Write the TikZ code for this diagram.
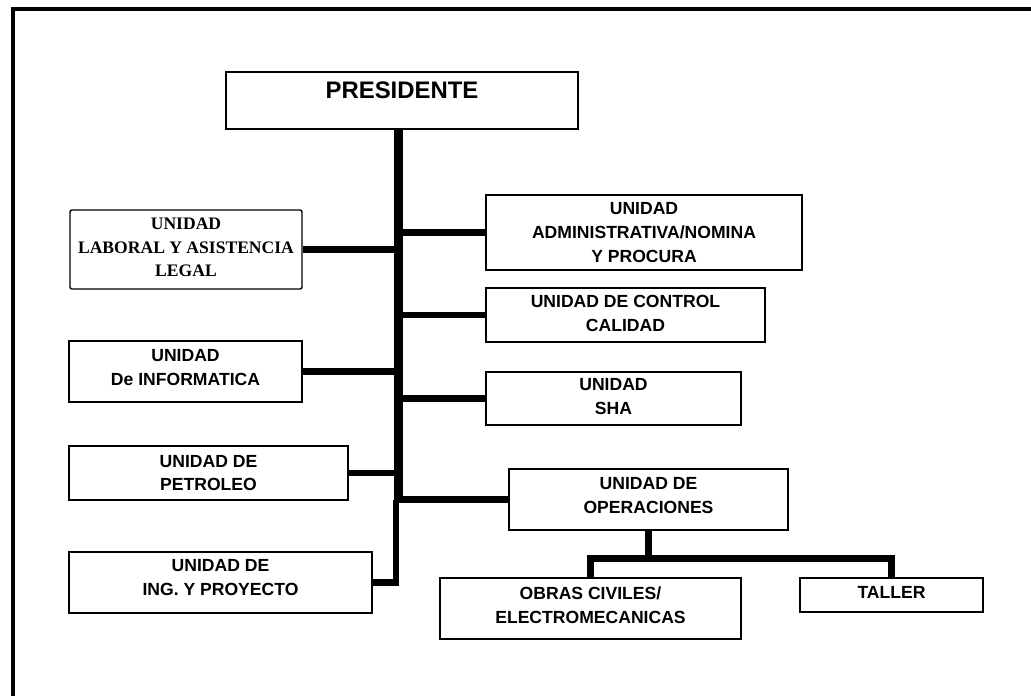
\documentclass[tikz,border=0pt]{standalone}
\usepackage{fontspec}
\setmainfont{Liberation Sans}
\newfontfamily\timesfont{Liberation Serif}
\usetikzlibrary{positioning}
\newcommand{\bajo}[1]{\rule[-#1]{0pt}{0pt}}

\begin{document}
\begin{tikzpicture}[x=0.025cm, y=-0.025cm,
  unidad/.style={draw, line width=1pt, fill=white, align=center, inner sep=0pt,
    font=\fontsize{12.5}{16.8}\selectfont\bfseries},
  rama/.style={line width=4.3pt},
  tronco/.style={line width=7.1pt}]
\useasboundingbox (0,0) rectangle (1031,696);

% Frame
\draw[line width=2.85pt] (13,696) -- (13,9) -- (1031,9);

% Boxes
\node[unidad, minimum width=8.8cm, text height=0.675cm, text depth=0.75cm,
  font=\fontsize{17}{20}\selectfont\bfseries] (pres) at (402,100.5) {PRESIDENTE};

\node[unidad, rounded corners=1.5pt, minimum width=5.8cm, minimum height=1.975cm,
  font=\fontsize{12.5}{16.6}\selectfont\timesfont\bfseries] (laboral) at (186,249.5)
  {UNIDAD\\LABORAL Y ASISTENCIA\\LEGAL\bajo{3pt}};
\node[unidad, minimum width=5.825cm, minimum height=1.525cm] (info) at (185.5,371.5)
  {UNIDAD\\De INFORMATICA\bajo{6pt}};
\node[unidad, minimum width=6.975cm, minimum height=1.35cm] (petro) at (208.5,473)
  {UNIDAD DE\\PETROLEO};
\node[unidad, minimum width=7.575cm, minimum height=1.525cm] (ing) at (220.5,582.5)
  {UNIDAD DE\\ING. Y PROYECTO\bajo{7pt}};

\node[unidad, minimum width=7.9cm, minimum height=1.875cm] (admin) at (644,232.5)
  {UNIDAD\\ADMINISTRATIVA/NOMINA\\Y PROCURA};
\node[unidad, minimum width=6.975cm, minimum height=1.35cm] (calidad) at (625.5,315)
  {UNIDAD DE CONTROL\\CALIDAD\bajo{2pt}};
\node[unidad, minimum width=6.375cm, minimum height=1.325cm] (sha) at (613.5,398.5)
  {UNIDAD\\SHA\bajo{3pt}};
\node[unidad, minimum width=6.975cm, minimum height=1.525cm] (ops) at (648.5,499.5)
  {UNIDAD DE\\OPERACIONES\bajo{6pt}};

\node[unidad, minimum width=7.525cm, minimum height=1.525cm] (obras) at (590.5,608.5)
  {OBRAS CIVILES/\\ELECTROMECANICAS\bajo{5pt}};
\node[unidad, minimum width=4.575cm, minimum height=0.85cm] (taller) at (891.5,595)
  {TALLER\bajo{4pt}};

% Trunk
\coordinate (tr) at (398.5,0);
\coordinate (tr2) at (396,0);
\coordinate (bar) at (0,558.5);
\draw[tronco] (pres.south -| tr) -- (ops.west -| tr);
\draw[rama] (ops.west -| tr2) |- (ing.east);

% Branches
\foreach \u in {laboral, info, petro, admin, calidad, sha, ops}
  \draw[rama] (\u) -- (\u -| tr);
\draw[rama] (ops.south) -- (ops.south |- bar);
\draw[rama] (obras.north) |- (taller.north |- bar) -- (taller.north);
\end{tikzpicture}
\end{document}
